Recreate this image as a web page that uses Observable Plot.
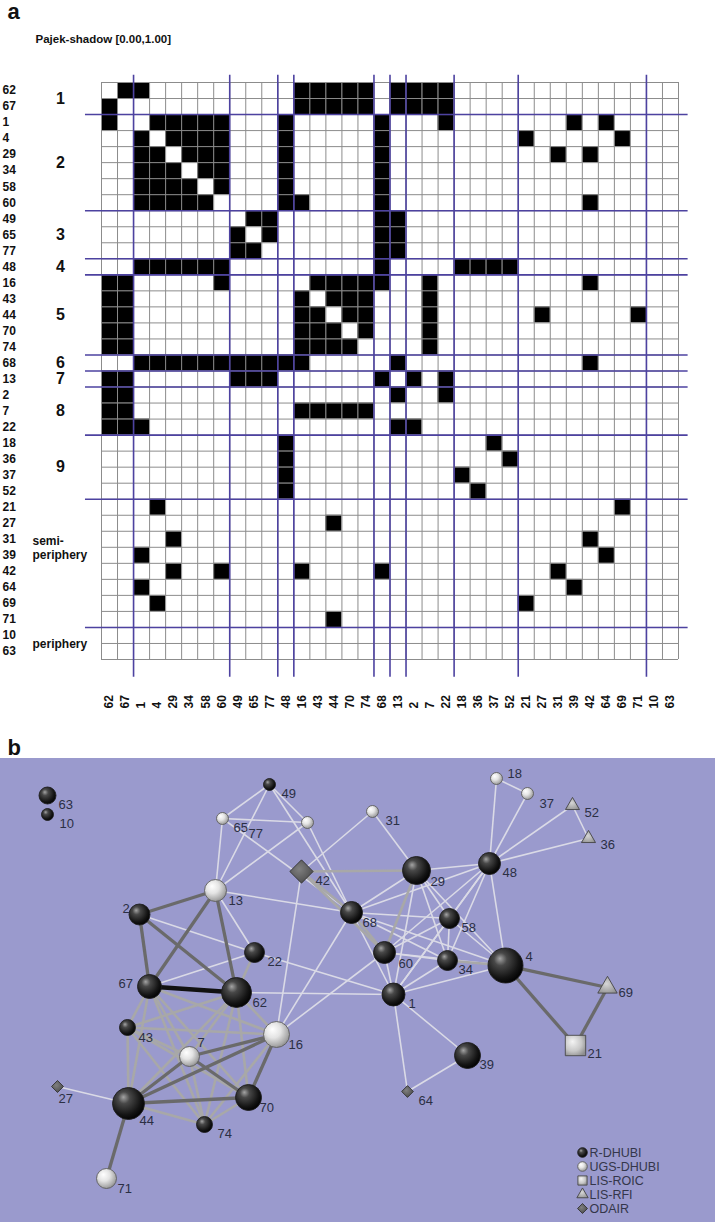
<!DOCTYPE html>
<html><head><meta charset="utf-8">
<script src="https://cdn.jsdelivr.net/npm/d3@7"></script>
<script src="https://cdn.jsdelivr.net/npm/@observablehq/plot@0.6"></script>
<style>
body{margin:0;background:#fff;width:715px;font-family:"Liberation Sans",Arial,sans-serif;}
#a svg,#b svg{display:block;}
</style></head><body>
<svg width="0" height="0" style="position:absolute"><defs>
<radialGradient id="gDark" cx="0.4" cy="0.38" r="0.66" fx="0.34" fy="0.3">
<stop offset="0" stop-color="#a4a4a4"/><stop offset="0.28" stop-color="#484848"/><stop offset="0.75" stop-color="#141414"/><stop offset="1" stop-color="#000"/></radialGradient>
<radialGradient id="gLight" cx="0.4" cy="0.38" r="0.66" fx="0.34" fy="0.3">
<stop offset="0" stop-color="#ffffff"/><stop offset="0.45" stop-color="#e4e4e4"/><stop offset="0.85" stop-color="#a9a9a9"/><stop offset="1" stop-color="#8a8a8a"/></radialGradient>
<radialGradient id="gSquare" cx="0.4" cy="0.4" r="0.7" fx="0.35" fy="0.3">
<stop offset="0" stop-color="#f4f4f4"/><stop offset="0.6" stop-color="#c8c8c8"/><stop offset="1" stop-color="#8e8e8e"/></radialGradient>
<radialGradient id="gTri" cx="0.45" cy="0.45" r="0.7">
<stop offset="0" stop-color="#d6d6d6"/><stop offset="1" stop-color="#8c8c8c"/></radialGradient>
<radialGradient id="gDia" cx="0.4" cy="0.4" r="0.7">
<stop offset="0" stop-color="#808080"/><stop offset="1" stop-color="#474747"/></radialGradient>
</defs></svg>
<div id="a"></div><div id="b"></div>
<script>
// ---------- Panel a: blockmodel matrix ----------
const order = ["62","67","1","4","29","34","58","60","49","65","77","48","16","43","44","70","74","68","13","2","7","22","18","36","37","52","21","27","31","39","42","64","69","71","10","63"];
const rowTies = [
  ["67","1","16","43","44","70","74","13","2","7","22"],
  ["62","16","43","44","70","74","13","2","7","22"],
  ["62","4","29","34","58","60","48","68","22","39","64"],
  ["1","29","34","58","60","48","68","21","69"],
  ["1","4","34","58","60","48","68","31","42"],
  ["1","4","29","58","60","48","68"],
  ["1","4","29","34","60","48","68"],
  ["1","4","29","34","58","48","16","68","42"],
  ["65","77","68","13"],
  ["49","77","68","13"],
  ["49","65","68","13"],
  ["1","4","29","34","58","60","68","18","36","37","52"],
  ["62","67","60","43","44","70","74","68","7","42"],
  ["62","67","16","44","70","74","7"],
  ["62","67","16","43","70","74","7","27","71"],
  ["62","67","16","43","44","74","7"],
  ["62","67","16","43","44","70","7"],
  ["1","4","29","34","58","60","49","65","77","48","16","13","42"],
  ["62","67","49","65","77","68","2","22"],
  ["62","67","13","22"],
  ["62","67","16","43","44","70","74"],
  ["62","67","1","13","2"],
  ["48","37"],
  ["48","52"],
  ["48","18"],
  ["48","36"],
  ["4","69"],
  ["44"],
  ["29","42"],
  ["1","64"],
  ["29","60","16","68","31"],
  ["1","39"],
  ["4","21"],
  ["44"],
  [],
  []
];
const blockNames = ["1","2","3","4","5","6","7","8","9","semi-\nperiphery","periphery"];
const blockStarts = [0,2,8,11,12,17,18,19,22,26,34];
const blockBounds = [2,8,11,12,17,18,19,22,26,34];

const n = order.length;
const pos = new Map(order.map((d,i)=>[d,i]));
const cells = [];
rowTies.forEach((ties,i)=>ties.forEach(t=>cells.push({i, j:pos.get(t)})));
const gridIdx = d3.range(n+1);
const blocks = blockNames.map((name,k)=>({name, start:blockStarts[k], end: k+1<blockStarts.length?blockStarts[k+1]:n}));
const numBlocks = blocks.filter(b=>!b.name.includes("periphery"));
const otherBlocks = blocks.filter(b=>b.name.includes("periphery"));

const FONT = "Liberation Sans, Arial, sans-serif";
const plotA = Plot.plot({
  width:715, height:758, margin:0,
  style:{fontFamily:FONT, background:"#fff"},
  x:{domain:[0,n], range:[101,678], axis:null},
  y:{domain:[0,n], range:[82,659], axis:null},
  marks:[
    Plot.rect([0],{x1:0,x2:n,y1:0,y2:n,fill:"#fff"}),
    Plot.rect(cells,{x1:d=>d.j,x2:d=>d.j+1,y1:d=>d.i,y2:d=>d.i+1,fill:"#000"}),
    Plot.ruleX(gridIdx,{y1:0,y2:n,stroke:"#8c8c8c",strokeWidth:1}),
    Plot.ruleY(gridIdx,{x1:0,x2:n,stroke:"#8c8c8c",strokeWidth:1}),
    Plot.ruleX(blockBounds,{y1:-0.45,y2:37.1,stroke:"#4d42a0",strokeWidth:1.6}),
    Plot.ruleY(blockBounds,{x1:-1,x2:36.6,stroke:"#4d42a0",strokeWidth:1.6}),
    // row labels
    Plot.text(order,{y:(d,i)=>i+0.5,frameAnchor:"left",dx:2,textAnchor:"start",fontWeight:"bold",fontSize:12,fill:"#111"}),
    // column labels
    Plot.text(order,{x:(d,i)=>i+0.5,frameAnchor:"bottom",dy:-50,rotate:-90,textAnchor:"start",lineAnchor:"middle",fontWeight:"bold",fontSize:12,fill:"#111"}),
    // block labels
    Plot.text(numBlocks,{y:d=>(d.start+d.end)/2,text:"name",frameAnchor:"left",dx:60,textAnchor:"middle",fontWeight:"bold",fontSize:16,fill:"#111"}),
    Plot.text(otherBlocks,{y:d=>d.name.startsWith("semi")?(d.start+d.end)/2-1:(d.start+d.end)/2,text:"name",frameAnchor:"left",dx:32,textAnchor:"start",fontWeight:"bold",fontSize:12,lineHeight:1.15,fill:"#111"}),
    // panel titles
    Plot.text(["a"],{frameAnchor:"top-left",dx:7,dy:3,textAnchor:"start",lineAnchor:"top",fontWeight:"bold",fontSize:22,fill:"#111"}),
    Plot.text(["Pajek-shadow [0.00,1.00]"],{frameAnchor:"top-left",dx:35,dy:34,textAnchor:"start",lineAnchor:"top",fontWeight:"bold",fontSize:11.5,fill:"#111"}),
    Plot.text(["b"],{frameAnchor:"bottom-left",dx:7,dy:-4,textAnchor:"start",lineAnchor:"bottom",fontWeight:"bold",fontSize:22,fill:"#111"})
  ]
});
document.getElementById("a").append(plotA);

// ---------- Panel b: network ----------
const nodeIds   = ["63","10","49","65","77","42","13","2","22","29","48","68","58","60","34","4","1","62","67","43","16","7","27","44","70","74","71","39","64","69","21","18","37","52","36","31"];
const nodeX     = [47,47,269,222,307,301,215,139,254,416,489,351,449,384,447,505,393,236,149,127,276,189,57,128,248,204,106,467,407,607,575,496,527,572,588,372];
const nodeY     = [38,57,27,61,65,114,133,157,195,113,106,155,161,195,203,208,237,235,229,270,277,299,329,346,340,367,421,298,334,230,288,21,36,48,81,54];
const nodeSize  = [8.5,6,6,6,6,10.5,11,10.5,10,14,11,11,10,11,10,17.5,11.5,15,12,8,13,10,5.4,16,13,8,10,13,5.3,7.2,11.5,6,6,5.2,5.2,6];
const nodeType  = ["R-DHUBI","R-DHUBI","R-DHUBI","UGS-DHUBI","UGS-DHUBI","ODAIR","UGS-DHUBI","R-DHUBI","R-DHUBI","R-DHUBI","R-DHUBI","R-DHUBI","R-DHUBI","R-DHUBI","R-DHUBI","R-DHUBI","R-DHUBI","R-DHUBI","R-DHUBI","R-DHUBI","UGS-DHUBI","UGS-DHUBI","ODAIR","R-DHUBI","R-DHUBI","R-DHUBI","UGS-DHUBI","R-DHUBI","ODAIR","LIS-RFI","LIS-ROIC","UGS-DHUBI","UGS-DHUBI","LIS-RFI","LIS-RFI","UGS-DHUBI"];
const labelX    = [58,59,281,233,248,315,228,122,267,430,502,362,461,398,458,525,408,252,118,138,288,197,58,139,259,217,117,479,418,618,587,507,539,584,600,385];
const labelY    = [47,66,36,70,76,123,143,151,204,124,115,165,170,206,212,199,246,245,226,280,287,285,341,363,350,376,431,307,343,235,296,16,46,55,87,63];
const typeNames = ["R-DHUBI","UGS-DHUBI","LIS-ROIC","LIS-RFI","ODAIR"];
const tiesW2 = [["62","16"],["62","43"],["62","44"],["62","70"],["62","74"],["62","7"],["62","22"],["67","16"],["67","43"],["67","44"],["67","70"],["67","74"],["67","7"],["16","43"],["16","74"],["43","44"],["43","70"],["43","74"],["43","7"],["44","74"],["70","74"],["74","7"],["29","60"],["60","68"],["60","42"],["68","42"],["29","42"],["4","34"]];
const tiesW3 = [["62","13"],["62","2"],["67","13"],["67","2"],["13","2"],["16","44"],["16","70"],["16","7"],["44","70"],["44","7"],["44","71"],["70","7"],["4","21"],["4","69"],["21","69"]];
const tiesW4 = [["62","67"]];

const nodes = nodeIds.map((id,i)=>({id,x:nodeX[i],y:nodeY[i],r:nodeSize[i],type:nodeType[i],lx:labelX[i],ly:labelY[i]}));
const byId = new Map(nodes.map(d=>[d.id,d]));
const key = (a,b)=>a<b?a+"|"+b:b+"|"+a;
const weight = new Map();
tiesW2.forEach(([a,b])=>weight.set(key(a,b),2));
tiesW3.forEach(([a,b])=>weight.set(key(a,b),3));
tiesW4.forEach(([a,b])=>weight.set(key(a,b),4));
const seen = new Set(), edges = [];
rowTies.forEach((ties,i)=>ties.forEach(t=>{
  const k = key(order[i],t);
  if (seen.has(k)) return; seen.add(k);
  edges.push({s:byId.get(order[i]), t:byId.get(t), w:weight.get(k)||1});
}));
edges.sort((a,b)=>a.w-b.w);
const edgeStroke = {1:"#dadae6",2:"#a8a8a8",3:"#6a6a6a",4:"#111111"};
const edgeWidth  = {1:1.6,2:2.6,3:3.3,4:4.6};
const typeFill   = {"R-DHUBI":"url(#gDark)","UGS-DHUBI":"url(#gLight)","LIS-ROIC":"url(#gSquare)","LIS-RFI":"url(#gTri)","ODAIR":"url(#gDia)"};
const typeStroke = {"R-DHUBI":"#1e1e1e","UGS-DHUBI":"#5e5e5e","LIS-ROIC":"#4a4a4a","LIS-RFI":"#444","ODAIR":"#333"};
const legendR    = {"R-DHUBI":4.8,"UGS-DHUBI":4.8,"LIS-ROIC":5.2,"LIS-RFI":4.2,"ODAIR":4.5};

const plotB = Plot.plot({
  width:715, height:464, margin:0,
  style:{fontFamily:FONT, background:"#9a9acd"},
  x:{domain:[0,715], range:[0,715], axis:null},
  y:{domain:[1,465], range:[0,464], axis:null},
  color:{type:"identity"},
  r:{type:"identity"},
  symbol:{domain:typeNames, range:["circle","circle","square","triangle","diamond2"]},
  marks:[
    Plot.link(edges,{x1:d=>d.s.x,y1:d=>d.s.y,x2:d=>d.t.x,y2:d=>d.t.y,stroke:d=>edgeStroke[d.w],strokeWidth:d=>edgeWidth[d.w]}),
    Plot.dot(nodes,{x:"x",y:"y",r:"r",symbol:"type",fill:d=>typeFill[d.type],stroke:d=>typeStroke[d.type],strokeWidth:0.9}),
    Plot.text(nodes,{x:"lx",y:"ly",text:"id",textAnchor:"start",fontSize:13,fill:"#2b2f44"}),
    // legend
    Plot.dot(typeNames,{x:()=>582,y:(d,i)=>395+14*i,r:d=>legendR[d],symbol:d=>d,fill:d=>typeFill[d],stroke:d=>typeStroke[d],strokeWidth:0.9}),
    Plot.text(typeNames,{x:()=>589,y:(d,i)=>395+14*i,text:d=>d,textAnchor:"start",fontSize:12.5,fill:"#34364a"})
  ]
});
document.getElementById("b").append(plotB);
</script>
</body></html>
